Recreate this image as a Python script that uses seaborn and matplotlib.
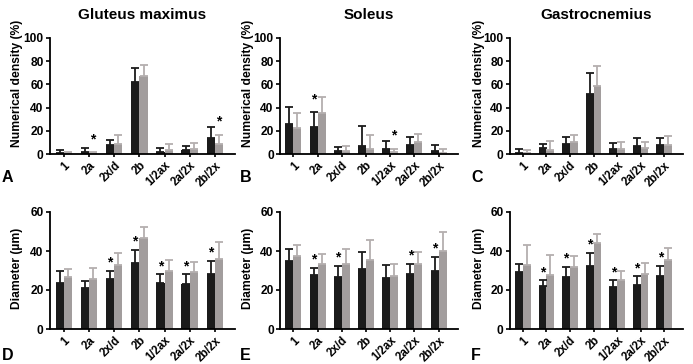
"""
Densidade numérica e diâmetro das fibras por tipo, em três músculos.
"""

import numpy as np
import pandas as pd
import seaborn as sns
import matplotlib.pyplot as plt

categorias = ["1", "2a", "2x/d", "2b", "1/2ax", "2a/2x", "2b/2x"]
musculos = ["Gluteus maximus", "Soleus", "Gastrocnemius"]
grupos = ["preto", "cinza"]

# densidade numérica (%): média e desvio (só a parte de cima)
dens_gm_preto = [1, 1.5, 7.5, 62.5, 1.5, 3.5, 14]
dens_gm_preto_dp = [2.5, 3.5, 5, 12, 3.5, 3.5, 9.5]
dens_gm_cinza = [1, 0.5, 9, 67, 3.5, 4.5, 9]
dens_gm_cinza_dp = [1, 1, 7, 10, 5, 5, 7.5]

dens_sol_preto = [26, 23.5, 2.5, 7, 4, 8, 2.5]
dens_sol_preto_dp = [14.5, 12.5, 3.5, 17, 7, 6.5, 5]
dens_sol_cinza = [22, 35, 3, 4, 1.5, 10.5, 1]
dens_sol_cinza_dp = [13.5, 14.5, 4, 12.5, 3, 6.5, 3]

dens_gas_preto = [1, 5, 9, 52, 4.5, 7, 8]
dens_gas_preto_dp = [3.5, 4, 6, 17.5, 5, 7, 6]
dens_gas_cinza = [0.5, 3.5, 10, 58.5, 4.5, 5, 8]
dens_gas_cinza_dp = [3, 7.5, 6, 17.5, 5.5, 5, 7.5]

# diâmetro (µm)
diam_gm_preto = [23.5, 21, 25.5, 34, 23.5, 23, 28]
diam_gm_preto_dp = [6, 3.5, 4.5, 6.5, 4.5, 5, 7]
diam_gm_cinza = [26.5, 25.5, 33, 46.5, 29.5, 29, 36]
diam_gm_cinza_dp = [4.5, 6, 6, 6, 6, 5.5, 8.5]

diam_sol_preto = [35, 27.5, 26.5, 31, 26, 28, 30]
diam_sol_preto_dp = [6, 4, 6, 8.5, 7, 5.5, 7]
diam_sol_cinza = [37.5, 33.5, 33.5, 35.5, 27, 33.5, 40]
diam_sol_cinza_dp = [5.5, 5, 7.5, 10, 6.5, 6, 10]

diam_gas_preto = [29, 22, 26.5, 32.5, 21.5, 22.5, 27]
diam_gas_preto_dp = [4.5, 3, 5.5, 6.5, 3.5, 4.5, 5.5]
diam_gas_cinza = [33, 27.5, 32, 44, 25, 28, 35.5]
diam_gas_cinza_dp = [10, 10.5, 5.5, 4.5, 4.5, 6, 6]

# asterisco: índice do grupo marcado (0 preto, 1 cinza) ou None
estrelas_A = [None, 1, None, None, None, None, 1]
estrelas_B = [None, 0, None, None, 1, None, None]
estrelas_C = [None] * 7
estrelas_D = [None, None, 0, 0, 0, 0, 0]
estrelas_E = [None, 0, 0, None, None, 0, 0]
estrelas_F = [None, 0, 0, 0, 0, 0, 0]

cores = ["#1b1b1b", "#a29d9d"]
cores_erro = ["#1b1b1b", "#b4afaf"]

plt.rcParams["font.family"] = ["Liberation Sans", "DejaVu Sans"]
plt.rcParams["font.weight"] = "bold"


def painel(ax, preto, preto_dp, cinza, cinza_dp, estrelas, ylim, yticks,
           ylabel, y_label, off_estrela):
    df = pd.DataFrame({
        "tipo": categorias * 2,
        "grupo": [grupos[0]] * 7 + [grupos[1]] * 7,
        "valor": preto + cinza,
    })
    sns.barplot(data=df, x="tipo", y="valor", hue="grupo", order=categorias,
                hue_order=grupos, palette=cores, saturation=1, errorbar=None,
                width=0.66, gap=0, linewidth=0, legend=False, ax=ax)
    medias = [preto, cinza]
    desvios = [preto_dp, cinza_dp]
    barras = list(ax.containers)
    for i, cont in enumerate(barras):
        xs = np.array([b.get_x() + b.get_width() / 2 for b in cont])
        m = np.array(medias[i])
        d = np.array(desvios[i])
        ax.errorbar(xs, m, yerr=[np.zeros_like(d), d], fmt="none",
                    ecolor=cores_erro[i], elinewidth=1.3, capsize=2.6,
                    capthick=1.3, zorder=1)
        for j, e in enumerate(estrelas):
            if e == i:
                ax.annotate("*", (xs[j], m[j] + d[j]), xytext=(0, off_estrela),
                            textcoords="offset points", ha="center",
                            va="bottom", fontsize=10, fontweight="bold")
    ax.set_ylim(*ylim)
    ax.set_yticks(yticks)
    ax.set_xlim(-0.55, 6.8)
    ax.set_xlabel("")
    ax.set_ylabel(ylabel, fontsize=8.7, fontweight="bold")
    ax.yaxis.set_label_coords(-0.145, y_label)
    ax.set_xticks(range(7))
    ax.set_xticklabels(categorias, rotation=45, ha="right",
                       rotation_mode="anchor", fontsize=8.3, fontweight="bold")
    ax.tick_params(axis="y", labelsize=8.6, width=1.2, length=3, pad=1.5)
    ax.tick_params(axis="x", width=1.2, length=2.5, pad=1.5)
    for lab in ax.get_yticklabels():
        lab.set_fontweight("bold")
    sns.despine(ax=ax)
    for s in ["left", "bottom"]:
        ax.spines[s].set_linewidth(1.3)


fig = plt.figure(figsize=(6.93, 3.64), dpi=100)

W, H = 693, 364
esquerdas = [50, 280, 510]
larguras = [185, 178, 173]
topo = [(38, 154), (212, 329)]

dados = [
    (dens_gm_preto, dens_gm_preto_dp, dens_gm_cinza, dens_gm_cinza_dp, estrelas_A),
    (dens_sol_preto, dens_sol_preto_dp, dens_sol_cinza, dens_sol_cinza_dp, estrelas_B),
    (dens_gas_preto, dens_gas_preto_dp, dens_gas_cinza, dens_gas_cinza_dp, estrelas_C),
    (diam_gm_preto, diam_gm_preto_dp, diam_gm_cinza, diam_gm_cinza_dp, estrelas_D),
    (diam_sol_preto, diam_sol_preto_dp, diam_sol_cinza, diam_sol_cinza_dp, estrelas_E),
    (diam_gas_preto, diam_gas_preto_dp, diam_gas_cinza, diam_gas_cinza_dp, estrelas_F),
]
letras = ["A", "B", "C", "D", "E", "F"]
letras_x = [2, 240, 471]
letras_y = [182, 360]

for k, (p, pdp, c, cdp, est) in enumerate(dados):
    lin, col = divmod(k, 3)
    y0, y1 = topo[lin]
    ax = fig.add_axes([esquerdas[col] / W, 1 - y1 / H,
                       larguras[col] / W, (y1 - y0) / H])
    if lin == 0:
        painel(ax, p, pdp, c, cdp, est, (0, 100), [0, 20, 40, 60, 80, 100],
               "Numerical density (%)", 0.61, 4.5)
        ax.set_title(musculos[col], fontsize=11, fontweight="bold", pad=14)
    else:
        painel(ax, p, pdp, c, cdp, est, (0, 60), [0, 20, 40, 60],
               "Diameter (µm)", 0.52, 0.8)
    fig.text(letras_x[col] / W, 1 - letras_y[lin] / H, letras[k],
             fontsize=11.5, fontweight="bold", va="baseline")

fig.savefig("out.png", dpi=100)
